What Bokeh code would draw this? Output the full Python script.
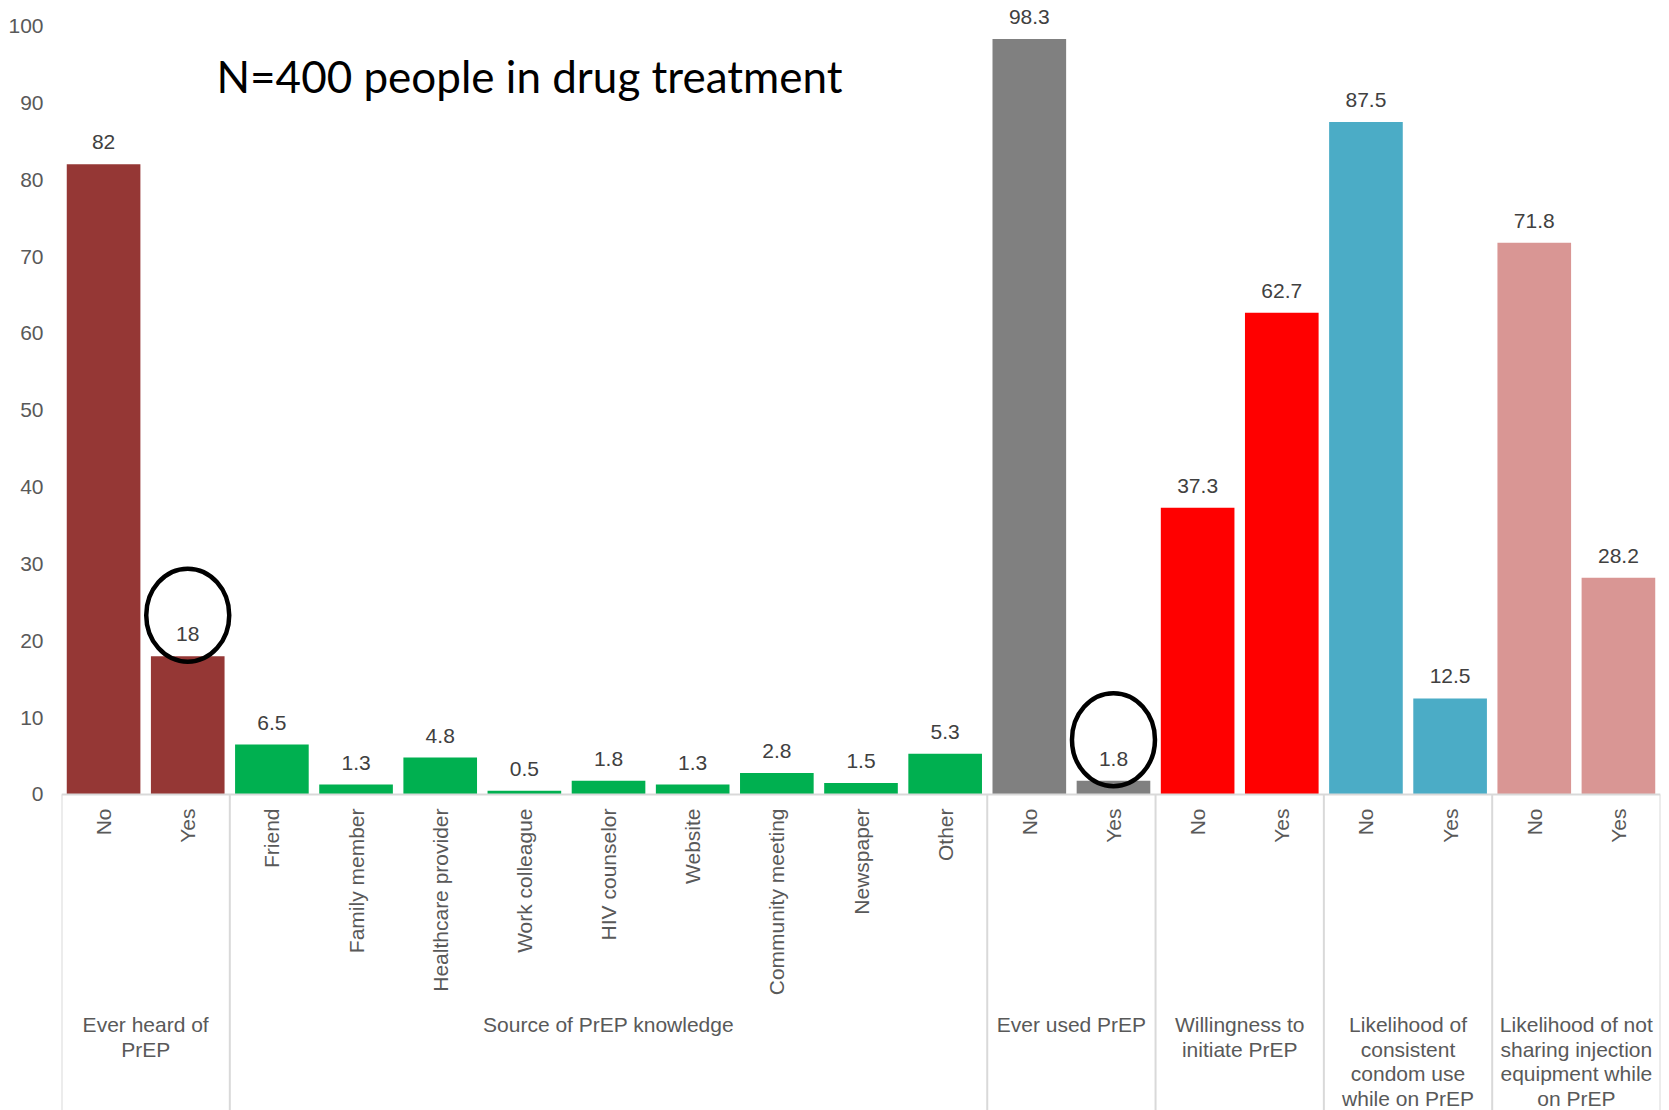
import math
from bokeh.plotting import figure
from bokeh.models import FactorRange, Range1d, FixedTicker, Label, ColumnDataSource
from bokeh.core.properties import value
from bokeh.embed import file_html
from bokeh.resources import INLINE

# ---- data -------------------------------------------------------------
groups = [
    "Ever heard of PrEP",
    "Source of PrEP knowledge",
    "Ever used PrEP",
    "Willingness to initiate PrEP",
    "Likelihood of consistent condom use while on PrEP",
    "Likelihood of not sharing injection equipment while on PrEP",
]
group_labels = [
    "Ever heard of\nPrEP",
    "Source of PrEP knowledge",
    "Ever used PrEP",
    "Willingness to\ninitiate PrEP",
    "Likelihood of\nconsistent\ncondom use\nwhile on PrEP",
    "Likelihood of not\nsharing injection\nequipment while\non PrEP",
]
subcategories = [
    ["No", "Yes"],
    ["Friend", "Family member", "Healthcare provider", "Work colleague",
     "HIV counselor", "Website", "Community meeting", "Newspaper", "Other"],
    ["No", "Yes"],
    ["No", "Yes"],
    ["No", "Yes"],
    ["No", "Yes"],
]
percentages = [
    [82, 18],
    [6.5, 1.3, 4.8, 0.5, 1.8, 1.3, 2.8, 1.5, 5.3],
    [98.3, 1.8],
    [37.3, 62.7],
    [87.5, 12.5],
    [71.8, 28.2],
]
group_colors = ["#953735", "#00B050", "#808080", "#FF0000", "#4BACC6", "#D99694"]
highlighted = [("Ever heard of PrEP", "Yes"), ("Ever used PrEP", "Yes")]
y_ticks = list(range(0, 101, 10))
title_text = "N=400 people in drug treatment"

# ---- layout constants -------------------------------------------------
W, H = 1669, 1110
FRAME_LEFT = 61
Y_MIN, Y_MAX = -41.12, 103.32
px_per_unit = H / (Y_MAX - Y_MIN)
GRAY_TEXT = "#595959"
VALUE_TEXT = "#404040"
RULE = "#D9D9D9"

factors, vals, colors, subs = [], [], [], []
for g, sc, pv, c in zip(groups, subcategories, percentages, group_colors):
    for s, v in zip(sc, pv):
        factors.append((g, s))
        vals.append(v)
        colors.append(c)
        subs.append(s)

bars = ColumnDataSource(dict(
    x=factors, top=vals, color=colors, sub=subs,
    label=[f"{v:g}" for v in vals],
))

p = figure(
    x_range=FactorRange(*factors, group_padding=0, factor_padding=0, range_padding=0),
    y_range=Range1d(Y_MIN, Y_MAX),
    width=W, height=H,
    output_backend="svg", toolbar_location=None,
    x_axis_location=None,
    min_border_left=FRAME_LEFT, min_border_right=9, min_border_top=0, min_border_bottom=0,
)
p.outline_line_color = None
p.grid.visible = False
p.background_fill_color = "white"
p.border_fill_color = "white"

yax = p.yaxis[0]
yax.ticker = FixedTicker(ticks=y_ticks)
yax.axis_line_color = None
yax.major_tick_line_color = None
yax.minor_tick_line_color = None
yax.major_tick_out = 0
yax.major_tick_in = 0
yax.major_label_standoff = 18
yax.major_label_text_font = "Liberation Sans"
yax.major_label_text_font_size = "21px"
yax.major_label_text_color = GRAY_TEXT

# bars
p.vbar(x="x", top="top", width=0.875, source=bars,
       fill_color="color", line_color=None)

# value labels above bars
p.text(x="x", y="top", text="label", source=bars,
       text_align="center", text_baseline="alphabetic", y_offset=-22,
       text_font=value("Liberation Sans"), text_font_size="21px",
       text_color=VALUE_TEXT)

# horizontal category axis line at zero
first, last = factors[0], factors[-1]
p.segment(x0=[(first[0], first[1], -0.5)], y0=[0],
          x1=[(last[0], last[1], 0.5)], y1=[0],
          line_color=RULE, line_width=2)

# group separators running down through the label area
sep_x = [(g, sc[0], -0.5) for g, sc in zip(groups, subcategories)]
sep_x.append((groups[-1], subcategories[-1][-1], 0.5))
p.segment(x0=sep_x, y0=[0] * len(sep_x), x1=sep_x, y1=[Y_MIN] * len(sep_x),
          line_color=RULE, line_width=2)

# rotated subcategory labels
p.text(x="x", y=0, text="sub", source=bars, angle=math.pi / 2,
       text_align="right", text_baseline="middle", y_offset=14,
       text_font=value("Liberation Sans"), text_font_size="21px",
       text_color=GRAY_TEXT)

# group labels
p.text(x=groups, y=[0] * len(groups), text=group_labels,
       text_align="center", text_baseline="top", y_offset=219,
       text_line_height=1.06,
       text_font=value("Liberation Sans"), text_font_size="21px",
       text_color=GRAY_TEXT)

# highlight rings around selected values
hv = [vals[factors.index(f)] for f in highlighted]
p.ellipse(x=highlighted, y=[v + 41 / px_per_unit for v in hv],
          width=83, height=93, width_units="screen", height_units="screen",
          fill_color=None, line_color="black", line_width=4.5)

# headline inside the chart
p.add_layout(Label(
    x=216 - FRAME_LEFT, y=H - 75, x_units="screen", y_units="screen",
    text=title_text, text_font="Lato", text_font_size="44px",
    text_color="black", text_baseline="middle", text_align="left",
))

open("out.html", "w").write(file_html(p, INLINE))
